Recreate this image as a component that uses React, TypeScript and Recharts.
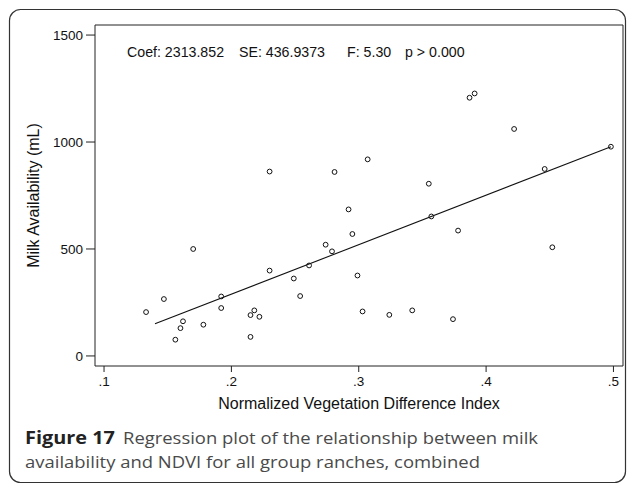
import React from 'react';
import { ScatterChart, Scatter, XAxis, YAxis, ReferenceArea, ReferenceLine } from 'recharts';

// NDVI per observation and the matching milk availability (mL)
const ndvi = [
  0.23, 0.17, 0.23, 0.147, 0.133, 0.192, 0.192, 0.162, 0.16, 0.178, 0.156, 0.218, 0.215,
  0.222, 0.215, 0.307, 0.281, 0.355, 0.292, 0.295, 0.357, 0.274, 0.279, 0.261, 0.249,
  0.254, 0.299, 0.303, 0.324, 0.342, 0.374, 0.378, 0.387, 0.391, 0.422, 0.446, 0.452, 0.498,
];
const milk = [
  862, 500, 399, 266, 205, 278, 224, 162, 130, 146, 76, 213, 191, 183, 89, 919, 860, 805,
  685, 570, 652, 520, 489, 423, 362, 280, 376, 208, 192, 213, 172, 586, 1207, 1227, 1061,
  874, 508, 978,
];

// linear fit end points
const fitX = [0.14, 0.498];
const fitY = [150, 978];

const xTicks = [0.1, 0.2, 0.3, 0.4, 0.5];
const yTicks = [0, 500, 1000, 1500];
const xDomain = [0.0929, 0.5075];
const yDomain = [-47, 1547];

const points = ndvi.map((x, i) => ({ x, y: milk[i] }));

const W = 627;
const H = 485;
const font = 'Liberation Sans, Arial, sans-serif';
const capFont = '"Open Sans", "Noto Sans", sans-serif';

const Ring = (props: any) => (
  <circle cx={props.cx} cy={props.cy} r={2.4} fill="none" stroke="#111" strokeWidth={1} />
);

const tickStyle = { fontSize: 13.5, fill: '#111', fontFamily: font };

export default function App() {
  return (
    <div style={{ position: 'absolute', left: 0, top: 0, width: W, height: H, background: '#fff' }}>
      <ScatterChart width={W} height={H} margin={{ top: 25, right: 4, left: 35, bottom: 89 }}>
        <XAxis
          type="number"
          dataKey="x"
          domain={xDomain}
          ticks={xTicks}
          allowDataOverflow
          height={30}
          axisLine={false}
          tickSize={6}
          tickMargin={4}
          tickLine={{ stroke: '#222' }}
          tick={tickStyle}
          tickFormatter={(v: number) => v.toFixed(1).replace(/^0/, '')}
        />
        <YAxis
          type="number"
          dataKey="y"
          domain={yDomain}
          ticks={yTicks}
          allowDataOverflow
          width={60}
          axisLine={false}
          tickSize={9}
          tickMargin={3}
          tickLine={{ stroke: '#222' }}
          tick={tickStyle}
        />
        <ReferenceArea
          x1={xDomain[0]}
          x2={xDomain[1]}
          y1={yDomain[0]}
          y2={yDomain[1]}
          fill="none"
          stroke="#222"
          strokeWidth={1}
          ifOverflow="visible"
        />
        <ReferenceLine
          segment={[
            { x: fitX[0], y: fitY[0] },
            { x: fitX[1], y: fitY[1] },
          ]}
          stroke="#111"
          strokeWidth={1.1}
        />
        <Scatter data={points} shape={Ring} isAnimationActive={false} />
      </ScatterChart>

      <svg
        width={W}
        height={H}
        style={{ position: 'absolute', left: 0, top: 0, pointerEvents: 'none' }}
      >
        <rect x={9.5} y={9.5} width={616} height={473} rx={11} fill="none" stroke="#333" strokeWidth={1.2} />

        <g fontFamily={font} fontSize={14.2} fill="#111">
          <text x={127} y={57}>Coef: 2313.852</text>
          <text x={239} y={57}>SE: 436.9373</text>
          <text x={347} y={57}>F: 5.30</text>
          <text x={405} y={57}>p &gt; 0.000</text>
        </g>

        <text x={359} y={408.5} textAnchor="middle" fontFamily={font} fontSize={16} fill="#111">
          Normalized Vegetation Difference Index
        </text>
        <text
          x={38.5}
          y={195.5}
          textAnchor="middle"
          transform="rotate(-90 38.5 195.5)"
          fontFamily={font}
          fontSize={16}
          fill="#111"
        >
          Milk Availability (mL)
        </text>

        <g fontFamily={capFont} fontSize={17}>
          <text x={25} y={444} fontWeight={700} fill="#222" textLength={90} lengthAdjust="spacingAndGlyphs">
            Figure 17
          </text>
          <text x={123} y={444} fill="#4a4a4a" textLength={415} lengthAdjust="spacingAndGlyphs">
            Regression plot of the relationship between milk
          </text>
          <text x={25} y={468} fill="#4a4a4a" textLength={455} lengthAdjust="spacingAndGlyphs">
            availability and NDVI for all group ranches, combined
          </text>
        </g>
      </svg>
    </div>
  );
}
